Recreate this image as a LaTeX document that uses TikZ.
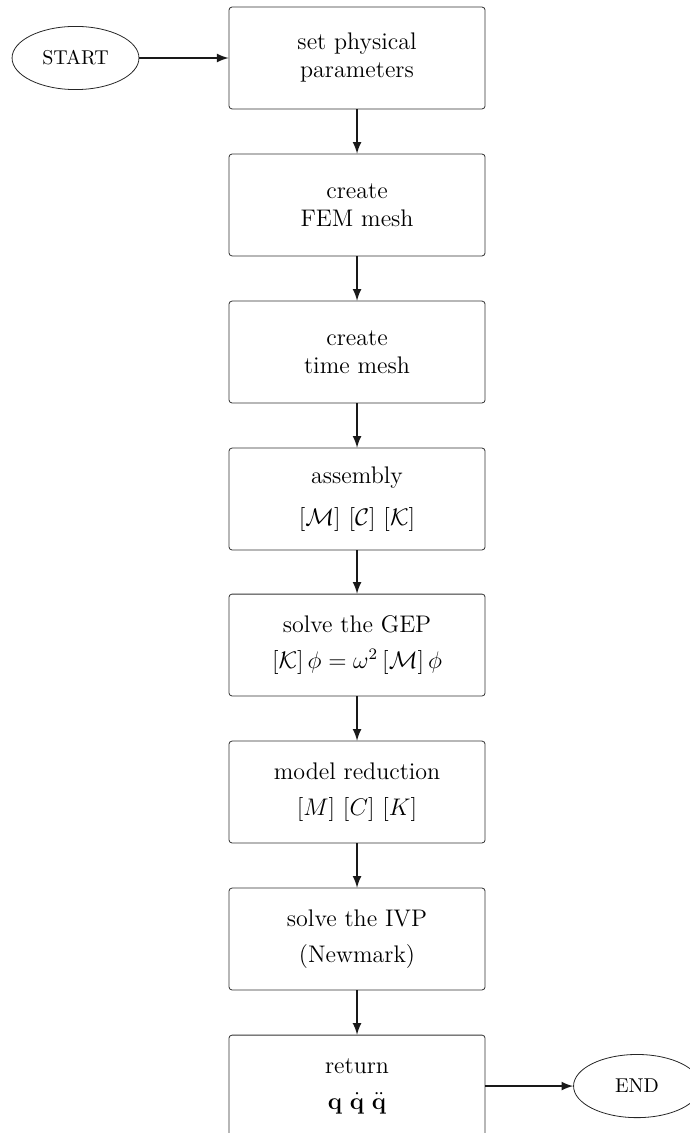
\documentclass[tikz,border=0pt]{standalone}
\usepackage{tikz}
\usetikzlibrary{calc,arrows}
\usetikzlibrary{shapes.geometric}
\usepackage{amsmath}
\usepackage{amsfonts}
\usepackage{xcolor}

\tikzset{
	stepbox/.style={draw=black!80, thin, rounded corners=1.5pt, minimum width=4.5cm, minimum height=1.79cm, align=center, font=\large},
	terminal/.style={draw=black!85, thin, ellipse, minimum width=2.23cm, minimum height=1.11cm},
	flow/.style={line width=1pt, black!90, -latex}
}

\begin{document}
\begin{tikzpicture}

		\useasboundingbox (0,0) rectangle (12.125,-19.91);
		\clip (0,0) rectangle (12.125,-19.91);

		\node (start) at (1.327,-1.019) [terminal] {START};

		\node (params) at (6.274,-1.019) [stepbox] {set physical\\ parameters};
		\node (femmesh) at (6.274,-3.602) [stepbox] {create\\ FEM mesh};
		\node (timemesh) at (6.274,-6.186) [stepbox] {create\\ time mesh};
		\node (assembly) at (6.274,-8.769) [stepbox] {assembly\\[7pt] $[\mathcal{M}]\ [\mathcal{C}]\ [\mathcal{K}]$};
		\node (gep) at (6.274,-11.335) [stepbox] {solve the GEP\\[4pt] $[\mathcal{K}]\,\phi = \omega^2\,[\mathcal{M}]\,\phi$};
		\node (reduction) at (6.274,-13.918) [stepbox] {model reduction\\[4pt] $[M]\ [C]\ [K]$};
		\node (ivp) at (6.274,-16.501) [stepbox] {solve the IVP\\[4pt] (Newmark)};
		\node (output) at (6.274,-19.085) [stepbox] {return\\[4pt] $\mathbf{q}\ \dot{\mathbf{q}}\ \ddot{\mathbf{q}}$};

		\node (finish) at (11.194,-19.085) [terminal] {END};

		\draw[flow] (start.east) -- (params.west);
		\draw[flow] (params) -- (femmesh);
		\draw[flow] (femmesh) -- (timemesh);
		\draw[flow] (timemesh) -- (assembly);
		\draw[flow] (assembly) -- (gep);
		\draw[flow] (gep) -- (reduction);
		\draw[flow] (reduction) -- (ivp);
		\draw[flow] (ivp) -- (output);
		\draw[flow] (output.east) -- (finish.west);

	\end{tikzpicture}
\end{document}
